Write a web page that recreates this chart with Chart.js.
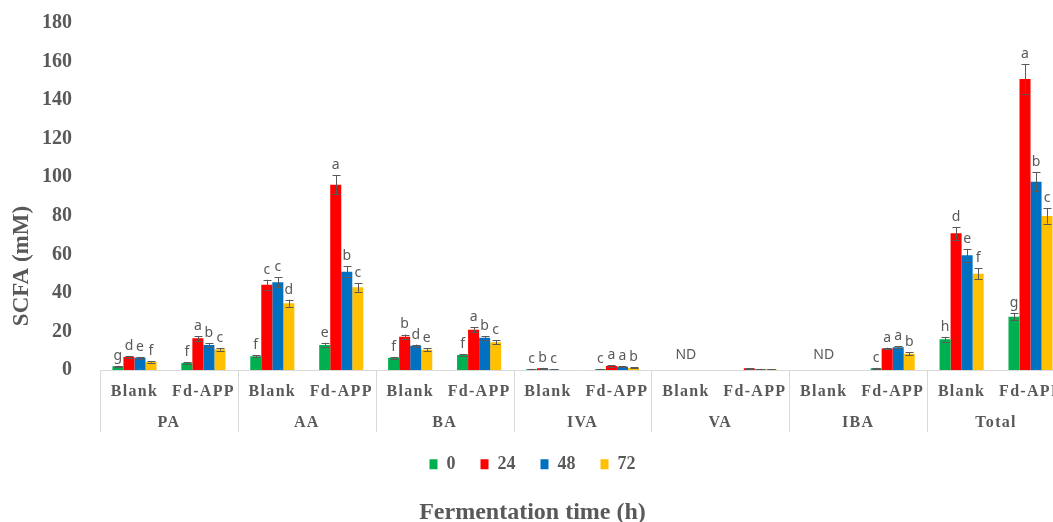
<!DOCTYPE html>
<html>
<head>
<meta charset="utf-8">
<script src="https://cdn.jsdelivr.net/npm/chart.js"></script>
<style>
  body { margin: 0; background: #fff; overflow: hidden; }
  #wrap { width: 1053px; height: 522px; overflow: hidden; }
</style>
</head>
<body>
<div id="wrap"><canvas id="grafica1" width="1068" height="527"></canvas></div>
<script>
// Datos
const categorias = ['Blank', 'Fd-APP', 'Blank', 'Fd-APP', 'Blank', 'Fd-APP', 'Blank', 'Fd-APP', 'Blank', 'Fd-APP', 'Blank', 'Fd-APP', 'Blank', 'Fd-APP'];
const grupos = ['PA', 'AA', 'BA', 'IVA', 'VA', 'IBA', 'Total'];
const tiempos = ['0', '24', '48', '72'];

const h0 = [2.0, 3.7, 7.2, 13.0, 6.4, 7.9, 0.5, 0.5, 0, 0, 0, 1.0, 16.0, 27.7];
const h24 = [6.9, 16.5, 44.3, 96.2, 17.3, 21.0, 1.0, 2.2, 0, 1.0, 0, 11.3, 71.0, 151.0];
const h48 = [6.4, 13.0, 45.6, 51.0, 12.7, 16.8, 0.4, 1.8, 0, 0.5, 0, 11.9, 59.6, 97.7];
const h72 = [4.3, 10.8, 34.7, 43.0, 10.6, 14.5, 0, 1.2, 0, 0.5, 0, 8.5, 50.0, 80.0];

const e0 = [0.3, 0.4, 0.5, 1.2, 0.5, 0.5, 0.2, 0.2, 0, 0, 0, 0.2, 1.3, 1.9];
const e24 = [0.6, 1.2, 2.6, 5.0, 1.2, 1.3, 0.2, 0.3, 0, 0.2, 0, 0.4, 3.3, 7.8];
const e48 = [0.5, 1.0, 2.6, 2.8, 0.6, 0.9, 0.2, 0.2, 0, 0.1, 0, 0.5, 3.3, 5.0];
const e72 = [0.4, 0.6, 1.8, 2.3, 0.8, 1.0, 0, 0.2, 0, 0.1, 0, 0.7, 2.9, 4.0];

const l0 = ['g', 'f', 'f', 'e', 'f', 'f', 'c', 'c', null, null, null, 'c', 'h', 'g'];
const l24 = ['d', 'a', 'c', 'a', 'b', 'a', 'b', 'a', null, null, null, 'a', 'd', 'a'];
const l48 = ['e', 'b', 'c', 'b', 'd', 'b', 'c', 'a', null, null, null, 'a', 'e', 'b'];
const l72 = ['f', 'c', 'd', 'c', 'e', 'c', null, 'b', null, null, null, 'b', 'f', 'c'];

const nd = [null, null, null, null, null, null, null, null, 'ND', null, 'ND', null, null, null];

const colores = ['#00B050', '#FF0000', '#0070C0', '#FFC000'];
const errores = [e0, e24, e48, e72];
const letras = [l0, l24, l48, l72];

const gris = '#595959';
const serif = '"Liberation Serif", "Times New Roman", serif';
const sans = '"Noto Sans", "Open Sans", sans-serif';
const tituloY = 'SCFA (mM)';

// Barras de error, letras y etiquetas de dos niveles
const extras = {
  id: 'extras',
  afterDatasetsDraw(chart) {
    const c = chart.ctx;
    const area = chart.chartArea;
    const y = chart.scales.y;
    c.save();
    c.strokeStyle = gris;
    c.lineWidth = 1;
    c.fillStyle = gris;
    c.font = '14px ' + sans;
    c.textAlign = 'center';
    c.textBaseline = 'bottom';
    chart.data.datasets.forEach((ds, i) => {
      const meta = chart.getDatasetMeta(i);
      meta.data.forEach((bar, j) => {
        const v = ds.data[j];
        const err = errores[i][j];
        const x = Math.round(bar.x) + 0.5;
        let top = y.getPixelForValue(v);
        if (v > 0) {
          const yt = y.getPixelForValue(v + err);
          const yb = y.getPixelForValue(Math.max(v - err, 0));
          c.beginPath();
          c.moveTo(x, yt); c.lineTo(x, yb);
          c.moveTo(x - 4, Math.round(yt) + 0.5); c.lineTo(x + 4, Math.round(yt) + 0.5);
          c.moveTo(x - 4, Math.round(yb) + 0.5); c.lineTo(x + 4, Math.round(yb) + 0.5);
          c.stroke();
          top = yt;
        }
        const l = letras[i][j];
        if (l) c.fillText(l, bar.x, top - 3);
      });
    });
    nd.forEach((t, j) => {
      if (!t) return;
      c.fillText(t, chart.scales.x.getPixelForValue(j), area.bottom - 8);
    });
    c.restore();
  },
  afterDraw(chart) {
    const c = chart.ctx;
    const area = chart.chartArea;
    const xs = chart.scales.x;
    const ancho = (area.right - area.left) / grupos.length;
    c.save();
    c.strokeStyle = '#d9d9d9';
    c.lineWidth = 1;
    c.beginPath();
    c.moveTo(area.left, Math.round(area.bottom) + 0.5);
    c.lineTo(area.right, Math.round(area.bottom) + 0.5);
    for (let k = 0; k <= grupos.length; k++) {
      const x = Math.round(area.left + k * ancho) + 0.5;
      c.moveTo(x, area.bottom);
      c.lineTo(x, area.bottom + 62);
    }
    c.stroke();
    c.fillStyle = gris;
    c.textAlign = 'center';
    c.textBaseline = 'middle';
    // titulo del eje Y, un poco por debajo del centro como en el original
    c.save();
    c.font = 'bold 23px ' + serif;
    c.translate(22, 266);
    c.rotate(-Math.PI / 2);
    c.fillText(tituloY, 0, 0);
    c.restore();
    c.font = 'bold 16px ' + serif;
    c.letterSpacing = '1.3px';
    categorias.forEach((t, j) => {
      c.fillText(t, xs.getPixelForValue(j), area.bottom + 22);
    });
    grupos.forEach((g, k) => {
      c.fillText(g, area.left + (k + 0.5) * ancho, area.bottom + 53);
    });
    c.restore();
  }
};

const ctx = document.getElementById('grafica1');
new Chart(ctx, {
  type: 'bar',
  data: {
    labels: categorias,
    datasets: tiempos.map((t, i) => ({
      label: t,
      data: [h0, h24, h48, h72][i],
      backgroundColor: colores[i],
      borderWidth: 0,
      categoryPercentage: 0.64,
      barPercentage: 1
    }))
  },
  options: {
    responsive: false,
    animation: false,
    layout: { padding: { top: 23, right: 3, left: 0, bottom: 0 } },
    scales: {
      x: {
        grid: { display: false },
        border: { display: false },
        ticks: { display: false },
        afterFit: s => { s.height = 60; }
      },
      y: {
        min: 0,
        max: 180,
        grid: { display: false },
        border: { display: false },
        ticks: {
          stepSize: 20,
          padding: 20,
          color: gris,
          font: { size: 20, weight: 'bold', family: serif }
        },
        afterFit: s => { s.width = 100; s.paddingTop = 0; s.paddingBottom = 0; }
      }
    },
    plugins: {
      legend: {
        position: 'bottom',
        labels: {
          boxWidth: 8,
          boxHeight: 10,
          padding: 25,
          color: gris,
          font: { size: 18, weight: 'bold', family: serif }
        }
      },
      title: {
        display: true,
        position: 'bottom',
        text: 'Fermentation time (h)',
        color: gris,
        font: { size: 24, weight: 'bold', family: serif },
        padding: { top: 15, bottom: 0 }
      },
      tooltip: { enabled: false }
    }
  },
  plugins: [extras]
});
</script>
</body>
</html>
